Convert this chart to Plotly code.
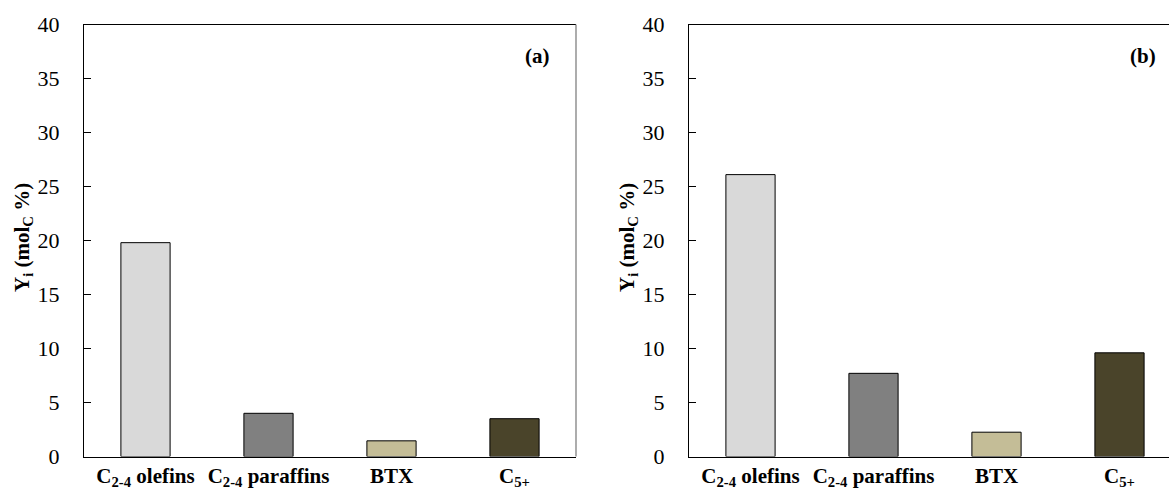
import plotly.graph_objects as go

categories = ["<b>C<sub>2-4</sub> olefins</b>", "<b>C<sub>2-4</sub> paraffins</b>", "<b>BTX</b>", "<b>C<sub>5+</sub></b>"]
values_a = [19.8, 4.0, 1.45, 3.5]
values_b = [26.1, 7.7, 2.25, 9.6]
bar_colors = ["#D9D9D9", "#808080", "#C4BD97", "#4A442A"]
y_ticks = [0, 5, 10, 15, 20, 25, 30, 35, 40]
panel_labels = ["(a)", "(b)"]

W, H = 1169, 490
font_serif = "Times New Roman"

fig = go.Figure()
x_idx = list(range(len(categories)))
fig.add_trace(go.Bar(x=x_idx, y=values_a, width=0.4, marker=dict(color=bar_colors, line=dict(color="black", width=1)),
                     xaxis="x", yaxis="y", showlegend=False))
fig.add_trace(go.Bar(x=x_idx, y=values_b, width=0.4, marker=dict(color=bar_colors, line=dict(color="black", width=1)),
                     xaxis="x2", yaxis="y2", showlegend=False))

y0 = 1 - 456.5 / H
y1 = 1 - 24.5 / H
xa = (84 / W, 576 / W)
xb = (689 / W, 1.0)

common_x = dict(tickmode="array", tickvals=x_idx, ticktext=categories, showline=True, linecolor="black",
                linewidth=1.3, mirror=True, ticks="", showgrid=False, zeroline=False, automargin=False,
                ticklabelstandoff=0,
                tickfont=dict(family=font_serif, size=21, color="black"))
common_y = dict(range=[0, 40], tickvals=y_ticks, ticks="inside", ticklen=7, tickcolor="black",
                showline=True, linecolor="black", linewidth=1.3, showgrid=False, zeroline=False,
                automargin=False, ticklabelstandoff=19,
                tickfont=dict(family=font_serif, size=22, color="black"))

fig.update_layout(
    width=W, height=H, margin=dict(l=0, r=0, t=0, b=0, autoexpand=False),
    plot_bgcolor="white", paper_bgcolor="white",
    font=dict(family=font_serif, color="black"),
    xaxis=dict(domain=list(xa), range=[-0.5, 3.5], anchor="y", **common_x),
    yaxis=dict(domain=[y0, y1], anchor="x", **common_y),
    xaxis2=dict(domain=list(xb), range=[-0.5, -0.5 + 480 / 123], anchor="y2", **common_x),
    yaxis2=dict(domain=[y0, y1], anchor="x2", **common_y),
)

# right border of panel (a)
fig.add_shape(type="line", xref="paper", yref="paper", x0=xa[1], x1=xa[1], y0=y0, y1=y1,
              line=dict(color="#808080", width=1.3))

for xc, lab in [(537 / W, panel_labels[0]), (1143 / W, panel_labels[1])]:
    fig.add_annotation(x=xc, y=1 - 56 / H, xref="paper", yref="paper", text="<b>" + lab + "</b>",
                       showarrow=False, font=dict(family=font_serif, size=21, color="black"),
                       xanchor="center", yanchor="middle")

for xc in [23 / W, 628 / W]:
    fig.add_annotation(x=xc, y=1 - 238 / H, xref="paper", yref="paper",
                       text="<b>Y<sub>i</sub> (mol<sub>C</sub> %)</b>", textangle=-90,
                       showarrow=False, font=dict(family=font_serif, size=21, color="black"),
                       xanchor="center", yanchor="middle")

fig.write_html("out.html")
